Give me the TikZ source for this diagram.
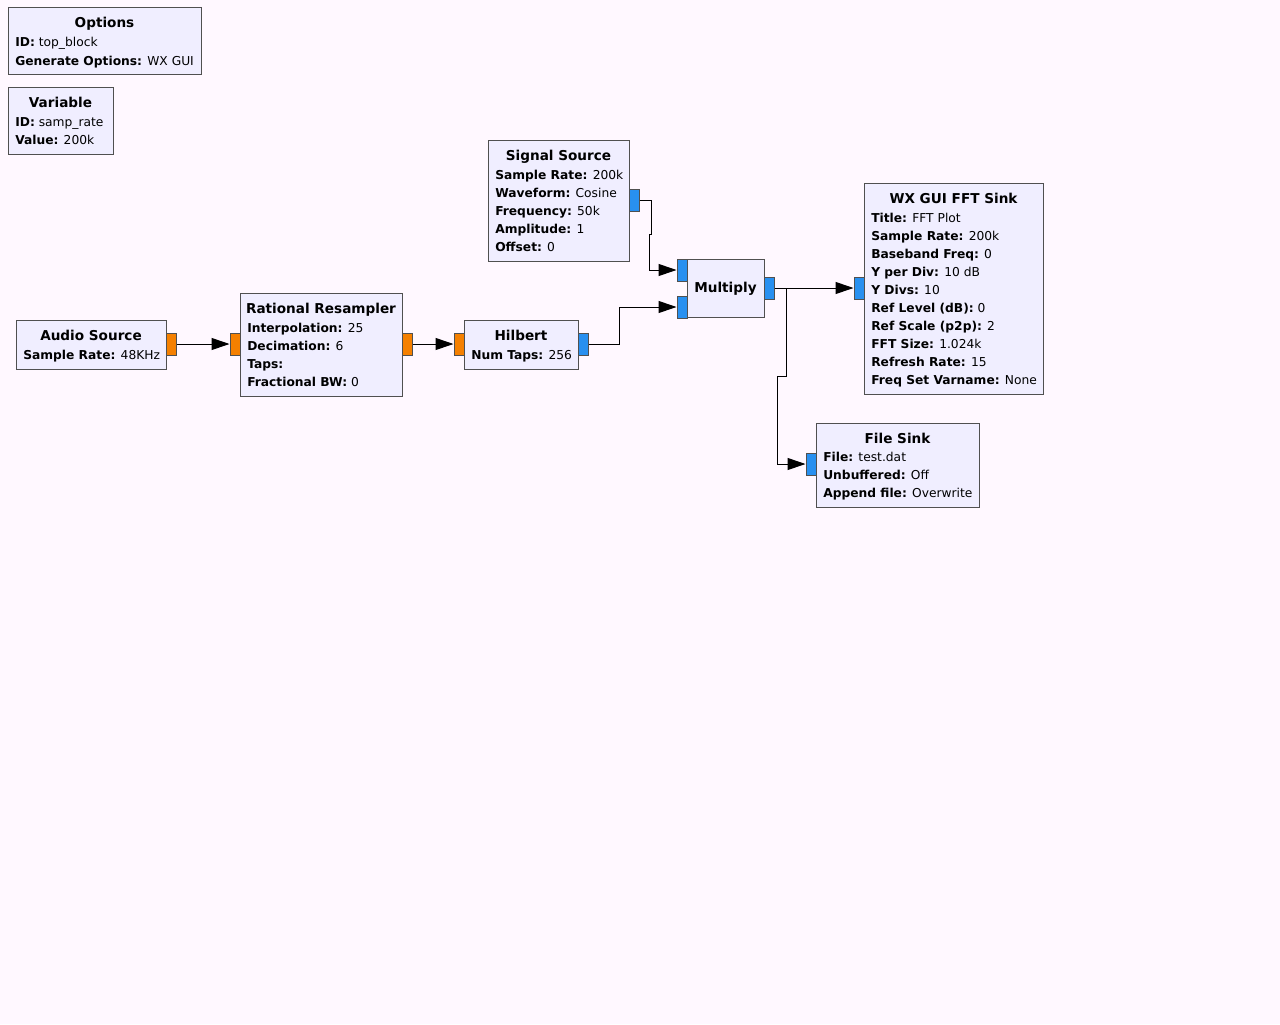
\documentclass[tikz,border=0pt]{standalone}
\usepackage{fontspec}
\setmainfont{DejaVu Sans}
\usetikzlibrary{fit,arrows.meta}
\definecolor{bg}{HTML}{FFF8FF}
\definecolor{blockfill}{HTML}{F0EEFF}
\definecolor{blockline}{HTML}{505050}
\definecolor{portorange}{HTML}{F58000}
\definecolor{portblue}{HTML}{2890F0}
\tikzset{
  block/.style={draw=blockline, fill=blockfill, line width=0.75pt, inner sep=0pt},
  oport/.style={draw=blockline, fill=portorange, line width=0.75pt, inner sep=0pt},
  bport/.style={draw=blockline, fill=portblue, line width=0.75pt, inner sep=0pt},
  ttl/.style={anchor=base, inner sep=0pt, font=\fontsize{10.2pt}{12pt}\selectfont\bfseries},
  prm/.style={anchor=base west, inner sep=0pt, font=\fontsize{9.2pt}{11pt}\selectfont},
  conn/.style={draw=black, line width=0.75pt, -{Triangle[length=13.5pt,width=9pt]}}
}
\begin{document}
\begin{tikzpicture}[x=0.75pt,y=-0.75pt]
\useasboundingbox[fill=bg] (0,0) rectangle (1280,1024);

% Options
\node[block, fit={(8,8)(201,75)}] (opt) {};
\node[ttl] (optt) at (104.5,28) {Options};
\node[prm] (opt1) at (15,47) {\textbf{ID:} top\_block};
\node[prm] (opt2) at (15,65) {\textbf{Generate Options:} WX GUI};

% Variable
\node[block, fit={(8,87)(113,154)}] (var) {};
\node[ttl] (vart) at (60.5,107) {Variable};
\node[prm] (var1) at (15,126) {\textbf{ID:} samp\_rate};
\node[prm] (var2) at (15,144) {\textbf{Value:} 200k};

% Signal Source
\node[block, fit={(488,140)(629,261)}] (sig) {};
\node[ttl] (sigt) at (558.5,160) {Signal Source};
\node[prm] (sig1) at (495,179) {\textbf{Sample Rate:} 200k};
\node[prm] (sig2) at (495,197) {\textbf{Waveform:} Cosine};
\node[prm] (sig3) at (495,215) {\textbf{Frequency:} 50k};
\node[prm] (sig4) at (495,233) {\textbf{Amplitude:} 1};
\node[prm] (sig5) at (495,251) {\textbf{Offset:} 0};
\node[bport, fit={(629,189)(639,211)}] (sout) {};

% Multiply
\node[block, fit={(687,259)(764,317)}] (mul) {};
\node[ttl] (mult) at (725.5,292) {Multiply};
\node[bport, fit={(677,259)(687,281)}] (min0) {};
\node[bport, fit={(677,296)(687,318)}] (min1) {};
\node[bport, fit={(764,277)(774,299)}] (mout) {};

% Audio Source
\node[block, fit={(16,320)(166,369)}] (aud) {};
\node[ttl] (audt) at (91,340) {Audio Source};
\node[prm] (aud1) at (23,359) {\textbf{Sample Rate:} 48KHz};
\node[oport, fit={(166,333)(176,355)}] (aout) {};

% Rational Resampler
\node[block, fit={(240,293)(402,396)}] (res) {};
\node[ttl] (rest) at (321,313) {Rational Resampler};
\node[prm] (res1) at (247,332) {\textbf{Interpolation:} 25};
\node[prm] (res2) at (247,350) {\textbf{Decimation:} 6};
\node[prm] (res3) at (247,368) {\textbf{Taps:}};
\node[prm] (res4) at (247,386) {\textbf{Fractional BW:} 0};
\node[oport, fit={(230,333)(240,355)}] (rin) {};
\node[oport, fit={(402,333)(412,355)}] (rout) {};

% Hilbert
\node[block, fit={(464,320)(578,369)}] (hil) {};
\node[ttl] (hilt) at (521,340) {Hilbert};
\node[prm] (hil1) at (471,359) {\textbf{Num Taps:} 256};
\node[oport, fit={(454,333)(464,355)}] (hin) {};
\node[bport, fit={(578,333)(588,355)}] (hout) {};

% WX GUI FFT Sink
\node[block, fit={(864,183)(1043,394)}] (fft) {};
\node[ttl] (fftt) at (953.5,203) {WX GUI FFT Sink};
\node[prm] (fft1) at (871,222) {\textbf{Title:} FFT Plot};
\node[prm] (fft2) at (871,240) {\textbf{Sample Rate:} 200k};
\node[prm] (fft3) at (871,258) {\textbf{Baseband Freq:} 0};
\node[prm] (fft4) at (871,276) {\textbf{Y per Div:} 10 dB};
\node[prm] (fft5) at (871,294) {\textbf{Y Divs:} 10};
\node[prm] (fft6) at (871,312) {\textbf{Ref Level (dB):} 0};
\node[prm] (fft7) at (871,330) {\textbf{Ref Scale (p2p):} 2};
\node[prm] (fft8) at (871,348) {\textbf{FFT Size:} 1.024k};
\node[prm] (fft9) at (871,366) {\textbf{Refresh Rate:} 15};
\node[prm] (fft10) at (871,384) {\textbf{Freq Set Varname:} None};
\node[bport, fit={(854,277)(864,299)}] (fin) {};

% File Sink
\node[block, fit={(816,423)(979,507)}] (fil) {};
\node[ttl] (filt) at (897.5,443) {File Sink};
\node[prm] (fil1) at (823,461) {\textbf{File:} test.dat};
\node[prm] (fil2) at (823,479) {\textbf{Unbuffered:} Off};
\node[prm] (fil3) at (823,497) {\textbf{Append file:} Overwrite};
\node[bport, fit={(806,453)(816,475)}] (filin) {};

% Connections
\draw[conn] (aout.east) -- (rin.west);
\draw[conn] (rout.east) -- (hin.west);
\draw[conn] (sout.east) -- ++(12,0) -- ++(0,34) -- ++(-2,0) |- (min0.west);
\draw[conn] (hout.east) -- ++(31,0) |- (min1.west);
\draw[conn] (mout.east) -- (fin.west);
\draw[conn] (mout.east) -- ++(12,0) -- ++(0,88) -- ++(-9,0) |- (filin.west);
\end{tikzpicture}
\end{document}
